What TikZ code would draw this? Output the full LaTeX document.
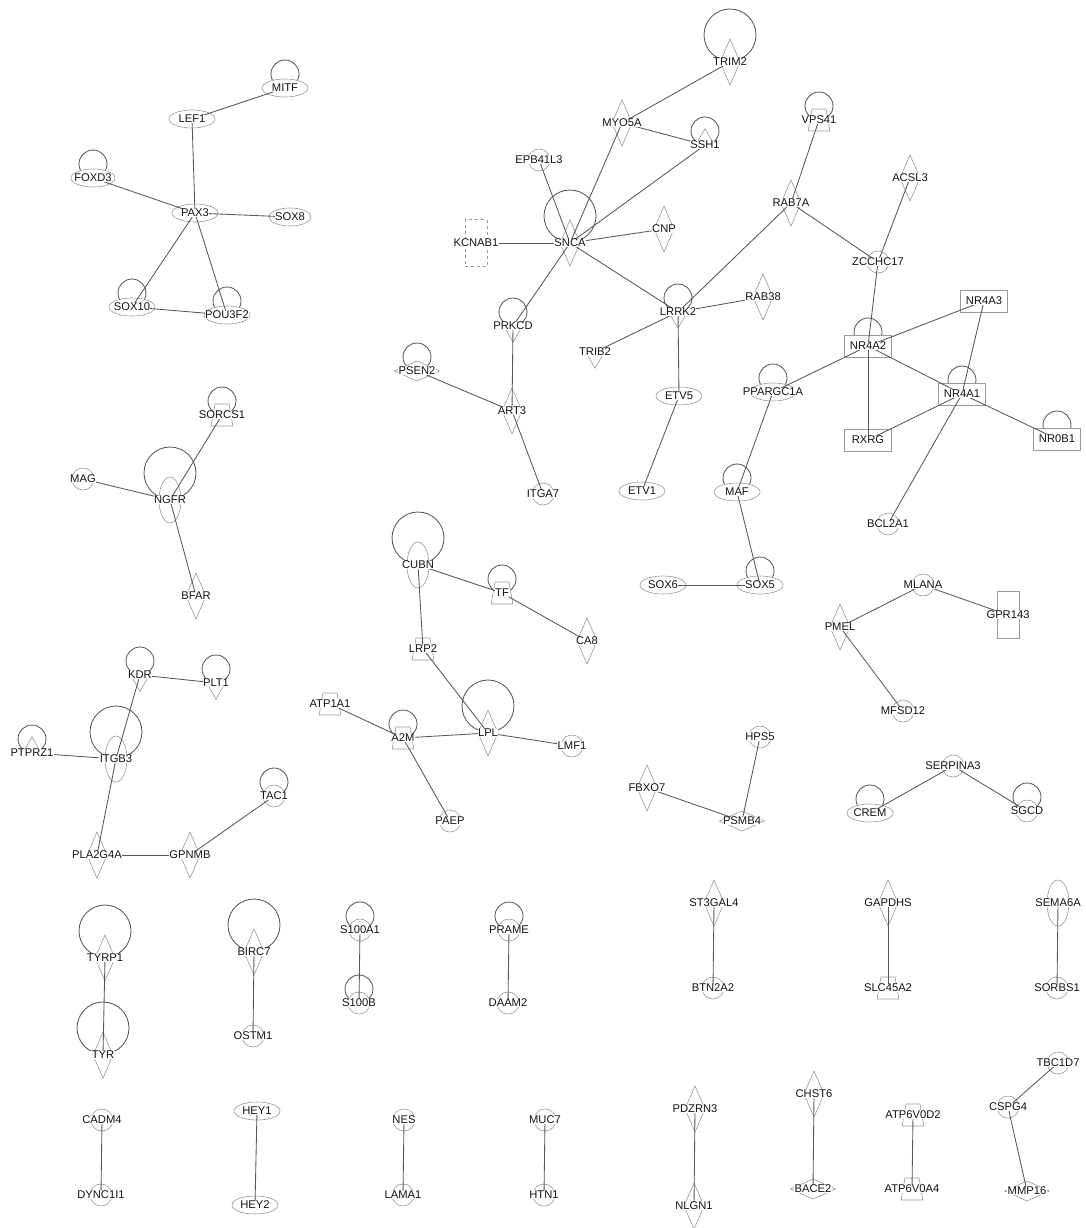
\documentclass[tikz,border=0pt]{standalone}
\usepackage{fontspec}
\setmainfont{Liberation Sans}
\usetikzlibrary{shapes.geometric}
\pgfdeclarelayer{bg}
\pgfdeclarelayer{mid}
\pgfdeclarelayer{top}
\pgfsetlayers{bg,main,mid,top}
\tikzset{
 shp/.style={draw=black!40, fill=white, line width=0.6pt, inner sep=0pt, outer sep=0pt},
 ell/.style={shp, ellipse, minimum width=46pt, minimum height=18pt},
 vell/.style={shp, ellipse, minimum width=22pt, minimum height=46pt},
 circ/.style={shp, circle, minimum size=22pt},
 dia/.style={shp, diamond, minimum width=20pt, minimum height=46pt},
 hdia/.style={shp, diamond, minimum width=45pt, minimum height=20pt},
 box/.style={shp, rectangle, minimum width=47pt, minimum height=22pt},
 tall/.style={shp, rectangle, minimum width=22pt, minimum height=47pt},
 trap/.style={shp, trapezium, trapezium left angle=80, trapezium right angle=80, inner xsep=7pt, inner ysep=11pt},
 tri/.style={shp, regular polygon, regular polygon sides=3, minimum size=26pt, yshift=3.2pt},
 invtri/.style={shp, regular polygon, regular polygon sides=3, shape border rotate=180, minimum size=26pt, yshift=-3.2pt},
 lbl/.style={fill=white, inner sep=0.4pt, text=black!92, font=\fontsize{11.2}{12}\selectfont},
 conn/.style={draw=black!66, line width=0.85pt},
 loopc/.style={draw=black!66, line width=0.85pt},
}
\newcommand\gene[4]{\node[#1] (#2) at (#3) {};
  \begin{pgfonlayer}{top}\node[lbl] (#2t) at (#3) {#4};\end{pgfonlayer}}
\newcommand\gloop[1]{\draw[loopc] ([yshift=14pt]#1t.center) circle[radius=14pt];}
\newcommand\bigloop[1]{\draw[loopc] ([yshift=27pt]#1t.center) circle[radius=26pt];}
\begin{document}
\begin{tikzpicture}[x=1pt,y=-1pt]
\useasboundingbox (0,0) rectangle (1086,1228);
% group PAX3
\gene{ell}{MITF}{285,88}{MITF}
\gene{ell}{LEF1}{192,119}{LEF1}
\gene{ell,minimum width=44pt}{FOXD3}{93,178}{FOXD3}
\gene{ell}{PAX3}{195,213}{PAX3}
\gene{ell,minimum width=42pt}{SOX8}{290,217}{SOX8}
\gene{ell}{SOX10}{132,307}{SOX10}
\gene{ell}{POU3F2}{227,315}{POU3F2}
% group SNCA
\gene{dia}{TRIM2}{730,62}{TRIM2}
\gene{dia}{MYO5A}{622,123}{MYO5A}
\gene{tri}{SSH1}{705,145}{SSH1}
\gene{circ}{EPB41L3}{539,160}{EPB41L3}
\gene{dia}{SNCA}{570,243}{SNCA}
\gene{dia}{CNP}{664,229}{CNP}
\gene{tall,dashed}{KCNAB1}{476,243}{KCNAB1}
\gene{invtri}{LRRK2}{678,312}{LRRK2}
\gene{invtri}{PRKCD}{513,326}{PRKCD}
\gene{trap}{VPS41}{819,120}{VPS41}
\gene{dia}{RAB7A}{791,203}{RAB7A}
\gene{dia}{ACSL3}{910,178}{ACSL3}
\gene{circ}{ZCCHC17}{878,262}{ZCCHC17}
\gene{dia}{RAB38}{763,297}{RAB38}
\gene{box}{NR4A3}{984,301}{NR4A3}
\gene{box}{NR4A2}{868,346}{NR4A2}
\gene{ell}{PPARGC1A}{773,392}{PPARGC1A}
\gene{box}{NR4A1}{962,394}{NR4A1}
\gene{box}{RXRG}{868,440}{RXRG}
\gene{box}{NR0B1}{1057,439}{NR0B1}
\gene{circ}{BCL2A1}{888,524}{BCL2A1}
\gene{ell}{MAF}{737,492}{MAF}
\gene{ell}{SOX5}{760,585}{SOX5}
\gene{ell}{SOX6}{663,585}{SOX6}
\gene{invtri}{TRIB2}{595,352}{TRIB2}
\gene{ell}{ETV5}{679,396}{ETV5}
\gene{ell}{ETV1}{642,491}{ETV1}
\gene{hdia}{PSEN2}{417,371}{PSEN2}
\gene{dia}{ART3}{512,411}{ART3}
\gene{circ}{ITGA7}{543,494}{ITGA7}
% group NGFR
\gene{trap}{SORCS1}{222,415}{SORCS1}
\gene{circ}{MAG}{83,479}{MAG}
\gene{vell}{NGFR}{170,500}{NGFR}
\gene{dia}{BFAR}{196,596}{BFAR}
% group ITGB3
\gene{invtri}{KDR}{140,675}{KDR}
\gene{invtri}{PLT1}{216,683}{PLT1}
\gene{tri}{PTPRZ1}{32,753}{PTPRZ1}
\gene{vell}{ITGB3}{116,759}{ITGB3}
\gene{circ}{TAC1}{274,796}{TAC1}
\gene{dia}{PLA2G4A}{97,855}{PLA2G4A}
\gene{dia}{GPNMB}{190,855}{GPNMB}
% group CUBN
\gene{vell}{CUBN}{418,565}{CUBN}
\gene{trap}{TF}{502,593}{TF}
\gene{dia}{CA8}{587,641}{CA8}
\gene{trap}{LRP2}{423,649}{LRP2}
\gene{trap}{ATP1A1}{330,704}{ATP1A1}
\gene{trap}{A2M}{403,738}{A2M}
\gene{dia}{LPL}{488,733}{LPL}
\gene{circ}{LMF1}{572,746}{LMF1}
\gene{circ}{PAEP}{450,821}{PAEP}
% small groups
\gene{circ}{MLANA}{923,585}{MLANA}
\gene{tall}{GPR143}{1008,615}{GPR143}
\gene{dia}{PMEL}{840,627}{PMEL}
\gene{circ}{MFSD12}{903,711}{MFSD12}
\gene{circ}{HPS5}{760,737}{HPS5}
\gene{dia}{FBXO7}{647,788}{FBXO7}
\gene{hdia}{PSMB4}{742,821}{PSMB4}
\gene{circ}{SERPINA3}{953,766}{SERPINA3}
\gene{ell}{CREM}{870,813}{CREM}
\gene{circ}{SGCD}{1027,811}{SGCD}
% bottom pairs
\gene{dia}{TYRP1}{105,958}{TYRP1}
\gene{dia}{TYR}{103,1055}{TYR}
\gene{dia}{BIRC7}{254,952}{BIRC7}
\gene{circ}{OSTM1}{253,1036}{OSTM1}
\gene{circ}{S100A1}{360,930}{S100A1}
\gene{circ}{S100B}{359,1003}{S100B}
\gene{circ}{PRAME}{509,930}{PRAME}
\gene{circ}{DAAM2}{508,1003}{DAAM2}
\gene{dia}{ST3GAL4}{714,903}{ST3GAL4}
\gene{circ}{BTN2A2}{713,988}{BTN2A2}
\gene{dia}{GAPDHS}{888,903}{GAPDHS}
\gene{trap}{SLC45A2}{888,988}{SLC45A2}
\gene{vell}{SEMA6A}{1058,903}{SEMA6A}
\gene{circ}{SORBS1}{1057,988}{SORBS1}
\gene{circ}{CADM4}{102,1120}{CADM4}
\gene{circ}{DYNC1I1}{101,1195}{DYNC1I1}
\gene{ell}{HEY1}{257,1111}{HEY1}
\gene{ell}{HEY2}{255,1205}{HEY2}
\gene{circ}{NES}{404,1120}{NES}
\gene{circ}{LAMA1}{403,1195}{LAMA1}
\gene{circ}{MUC7}{545,1120}{MUC7}
\gene{circ}{HTN1}{544,1195}{HTN1}
\gene{dia}{PDZRN3}{695,1109}{PDZRN3}
\gene{dia}{NLGN1}{694,1206}{NLGN1}
\gene{dia}{CHST6}{814,1094}{CHST6}
\gene{hdia}{BACE2}{813,1189}{BACE2}
\gene{trap}{ATP6V0D2}{913,1115}{ATP6V0D2}
\gene{trap}{ATP6V0A4}{912,1189}{ATP6V0A4}
\gene{circ}{TBC1D7}{1058,1063}{TBC1D7}
\gene{circ}{CSPG4}{1008,1107}{CSPG4}
\gene{hdia}{MMP16}{1027,1191}{MMP16}
\begin{pgfonlayer}{bg}
\foreach \g in {MITF,FOXD3,SOX10,POU3F2,SSH1,VPS41,NR4A2,NR4A1,NR0B1,PPARGC1A,LRRK2,PRKCD,PSEN2,MAF,TF,SORCS1,KDR,PLT1,PTPRZ1,TAC1,A2M,SOX5,CREM,SGCD,S100A1,S100B,PRAME}
  {\gloop{\g}}
\foreach \g in {TRIM2,SNCA,NGFR,CUBN,LPL,ITGB3,TYRP1,TYR,BIRC7}
  {\bigloop{\g}}
\end{pgfonlayer}
\begin{pgfonlayer}{mid}
\foreach \a/\b in {MITF/LEF1, LEF1/PAX3, FOXD3/PAX3, PAX3/SOX8, PAX3/SOX10, PAX3/POU3F2, SOX10/POU3F2,
 TRIM2/MYO5A, MYO5A/SSH1, MYO5A/SNCA, SSH1/SNCA, EPB41L3/SNCA, KCNAB1/SNCA, SNCA/CNP, SNCA/LRRK2, SNCA/PRKCD,
 LRRK2/RAB7A, LRRK2/RAB38, LRRK2/TRIB2, LRRK2/ETV5, VPS41/RAB7A, RAB7A/ZCCHC17, ACSL3/ZCCHC17, ZCCHC17/NR4A2,
 NR4A2/NR4A3, NR4A2/PPARGC1A, NR4A2/NR4A1, NR4A2/RXRG, NR4A3/NR4A1, NR4A1/RXRG, NR4A1/NR0B1, NR4A1/BCL2A1,
 PPARGC1A/MAF, MAF/SOX5, SOX6/SOX5, ETV5/ETV1, PRKCD/ART3, PSEN2/ART3, ART3/ITGA7,
 SORCS1/NGFR, MAG/NGFR, NGFR/BFAR,
 KDR/PLT1, KDR/ITGB3, PTPRZ1/ITGB3, ITGB3/PLA2G4A, PLA2G4A/GPNMB, GPNMB/TAC1,
 CUBN/TF, TF/CA8, CUBN/LRP2, LRP2/LPL, ATP1A1/A2M, A2M/LPL, LPL/LMF1, A2M/PAEP,
 MLANA/PMEL, MLANA/GPR143, PMEL/MFSD12, HPS5/PSMB4, FBXO7/PSMB4, SERPINA3/CREM, SERPINA3/SGCD,
 TYRP1/TYR, BIRC7/OSTM1, S100A1/S100B, PRAME/DAAM2, ST3GAL4/BTN2A2, GAPDHS/SLC45A2, SEMA6A/SORBS1,
 CADM4/DYNC1I1, HEY1/HEY2, NES/LAMA1, MUC7/HTN1, PDZRN3/NLGN1, CHST6/BACE2, ATP6V0D2/ATP6V0A4,
 TBC1D7/CSPG4, CSPG4/MMP16}
  {\draw[conn] (\a t.center) -- (\b t.center);}
\end{pgfonlayer}
\end{tikzpicture}
\end{document}
